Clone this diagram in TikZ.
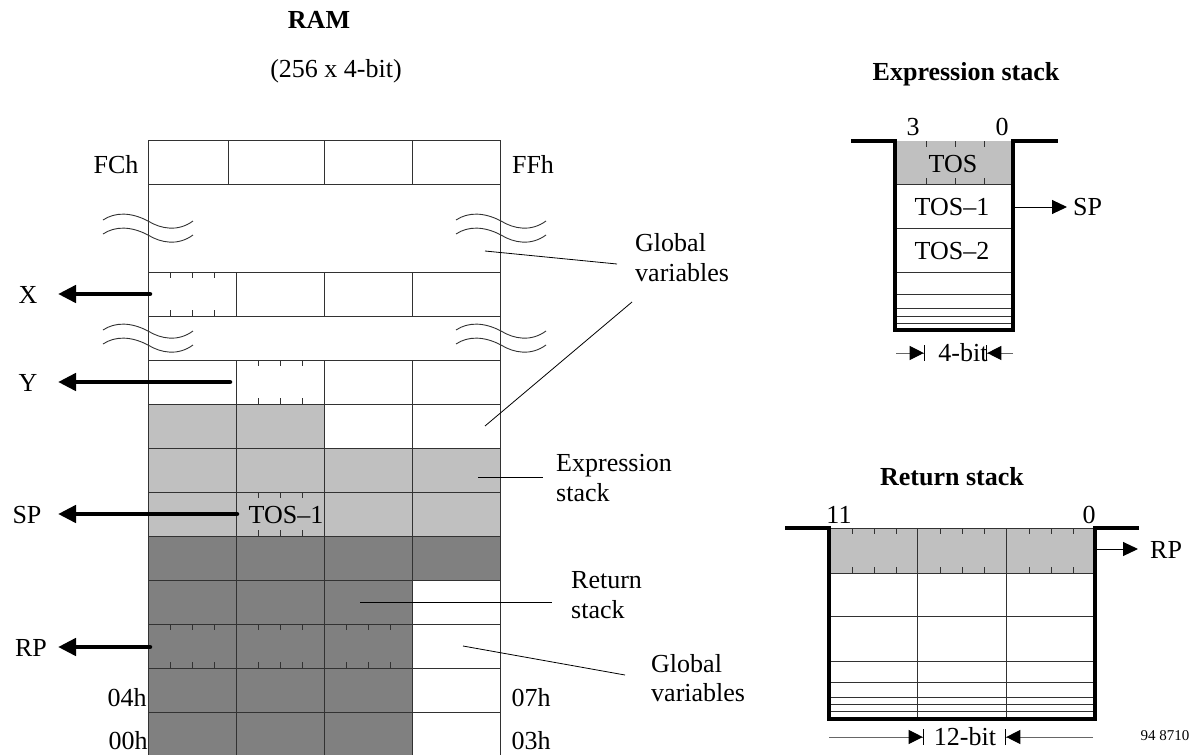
\documentclass[tikz,border=0pt]{standalone}
\usepackage{fontspec}
\setmainfont{Liberation Serif}
\usetikzlibrary{arrows.meta}
\definecolor{lgray}{RGB}{192,192,192}
\definecolor{dgray}{RGB}{128,128,128}
\definecolor{gline}{RGB}{50,50,50}
\begin{document}
\begin{tikzpicture}[x=1pt,y=-1pt,
  gridline/.style={draw=gline,line width=1pt},
  tickline/.style={draw=gline,line width=0.9pt},
  wall/.style={draw=black,line width=3.5pt,line join=miter},
  lbl/.style={font=\fontsize{26}{30}\selectfont,inner sep=0pt,anchor=base},
  mlbl/.style={font=\fontsize{26}{30}\selectfont,inner sep=0pt,align=left,anchor=west},
  ttl/.style={font=\fontsize{26}{30}\selectfont\bfseries,inner sep=0pt,anchor=base},
  bigarrow/.style={line width=4.5pt,line cap=round,-{Triangle[length=18pt,width=17pt]}},
  smallarrow/.style={line width=1pt,-{Triangle[length=15pt,width=14pt]}},
  dimarrow/.style={draw=black!60,line width=1pt,-{Triangle[length=14pt,width=14pt,color=black]Bar[width=16pt,color=black,line width=1.3pt]}},
  leader/.style={draw=black,line width=0.8pt},
  wave/.pic={\draw[gridline,line width=0.9pt] (0,0) .. controls (12,-8) and (28,-8) .. (45,1) .. controls (58,9) and (75,12) .. (90,1);}
]
\useasboundingbox (0,0) rectangle (1196,755);

% ---------------- RAM ----------------
\fill[lgray] (148,404) rectangle (324,448);
\fill[lgray] (148,448) rectangle (500,536);
\fill[dgray] (148,536) rectangle (500,580);
\fill[dgray] (148,580) rectangle (412,755);

\foreach \y in {140,184,272,316,360,404,448,492,536,580,624,668,712}
  \draw[gridline] (148,\y) -- (500,\y);
\draw[gridline] (148,140) -- (148,755);
\draw[gridline] (500,140) -- (500,755);
\foreach \x in {228,324,412} \draw[gridline] (\x,140) -- (\x,184);
\foreach \x in {236,324,412} {
  \draw[gridline] (\x,272) -- (\x,316);
  \draw[gridline] (\x,360) -- (\x,755);
}
% bit ticks
\foreach \cx/\ty in {148/272, 236/360, 236/492, 148/624, 236/624, 324/624} {
  \foreach \d in {22,44,66} {
    \draw[tickline] (\cx+\d,\ty) -- (\cx+\d,\ty+6);
    \draw[tickline] (\cx+\d,\ty+44) -- (\cx+\d,\ty+38);
  }
}
% break marks
\pic at (103,220) {wave};
\pic at (103,234) {wave};
\pic at (456,220) {wave};
\pic at (456,234) {wave};
\pic at (103,330) {wave};
\pic at (103,344) {wave};
\pic at (456,330) {wave};
\pic at (456,344) {wave};

% titles
\node[ttl] (ramT) at (319,28) {RAM};
\node[lbl] (ramS) at (336,77) {(256 x 4-bit)};

% address labels
\node[lbl] (fch) at (116,173) {FCh};
\node[lbl] (ffh) at (533,173) {FFh};
\node[lbl] (a04) at (127,706) {04h};
\node[lbl] (a07) at (531,706) {07h};
\node[lbl] (a00) at (128,749) {00h};
\node[lbl] (a03) at (531,749) {03h};
\node[lbl] (tos1r) at (286,523) {TOS\textendash 1};

% pointer labels and arrows
\node[lbl] (lX) at (28,303) {X};
\node[lbl] (lY) at (28,391) {Y};
\node[lbl] (lSP) at (27,523) {SP};
\node[lbl] (lRP) at (31,656) {RP};
\coordinate (sX) at (150,294);
\coordinate (sY) at (230,382);
\coordinate (sSP) at (237,514);
\coordinate (sRP) at (150,647);
\coordinate (tX) at (58,294);
\coordinate (tY) at (58,382);
\coordinate (tSP) at (58,514);
\coordinate (tRP) at (58,647);
\draw[bigarrow] (sX) -- (tX);
\draw[bigarrow] (sY) -- (tY);
\draw[bigarrow] (sSP) -- (tSP);
\draw[bigarrow] (sRP) -- (tRP);

% region labels and leaders
\node[mlbl] (gv1) at (635,258) {Global\\variables};
\node[mlbl] (es) at (556,478) {Expression\\stack};
\node[mlbl] (rs) at (571,595) {Return\\stack};
\node[mlbl,font=\fontsize{26}{29}\selectfont] (gv2) at (651,678) {Global\\variables};
\coordinate (g1a) at (485,251);
\coordinate (g1b) at (617,264);
\coordinate (g2a) at (485,426);
\coordinate (g2b) at (632,302);
\coordinate (esa) at (478,477);
\coordinate (esb) at (543,477);
\coordinate (rsa) at (360,602);
\coordinate (rsb) at (552,602);
\coordinate (g3a) at (463,646);
\coordinate (g3b) at (625,675);
\draw[leader] (g1a) -- (g1b);
\draw[leader] (g2a) -- (g2b);
\draw[leader] (esa) -- (esb);
\draw[leader] (rsa) -- (rsb);
\draw[leader] (g3a) -- (g3b);

% ---------------- Expression stack ----------------
\node[ttl] (esT) at (966,80) {Expression stack};
\fill[lgray] (895,141) rectangle (1013,184);
\foreach \y in {184,228,272,294,308,316,323}
  \draw[gridline] (895,\y) -- (1013,\y);
\foreach \x in {926,955,984} {
  \draw[tickline] (\x,141) -- (\x,147);
  \draw[tickline] (\x,184) -- (\x,178);
}
\draw[wall] (851,141) -- (895,141) -- (895,330) -- (1013,330) -- (1013,141) -- (1058,141);
\node[lbl] (e3) at (913,135) {3};
\node[lbl] (e0) at (1002,135) {0};
\node[lbl] (tos) at (953,172) {TOS};
\node[lbl] (tosm1) at (952,215) {TOS\textendash 1};
\node[lbl] (tosm2) at (952,259) {TOS\textendash 2};
\node[lbl,anchor=base west] (esp) at (1073,215) {SP};
\coordinate (espS) at (1013,207);
\coordinate (espT) at (1067,207);
\draw[smallarrow] (espS) -- (espT);
\node[lbl] (w4) at (963,361) {4-bit};
\coordinate (w4a) at (896,353);
\coordinate (w4b) at (925,353);
\coordinate (w4c) at (1013,353);
\coordinate (w4d) at (986,353);
\draw[dimarrow] (w4a) -- (w4b);
\draw[dimarrow] (w4c) -- (w4d);

% ---------------- Return stack ----------------
\node[ttl] (rsT) at (952,485) {Return stack};
\fill[lgray] (829,528) rectangle (1095,573);
\foreach \y in {573,616,661,682,697,704,711}
  \draw[gridline] (829,\y) -- (1095,\y);
\foreach \x in {917,1006} \draw[gridline] (\x,528) -- (\x,719);
\draw[gridline] (829,528) -- (1095,528);
\foreach \cx in {829,917,1006} {
  \foreach \d in {23,45,67} {
    \draw[tickline] (\cx+\d,528) -- (\cx+\d,534);
    \draw[tickline] (\cx+\d,573) -- (\cx+\d,567);
  }
}
\draw[wall] (785,528) -- (829,528) -- (829,719) -- (1095,719) -- (1095,528) -- (1139,528);
\node[lbl] (r11) at (839,523) {11};
\node[lbl] (r0) at (1089,523) {0};
\node[lbl,anchor=base west] (rrp) at (1150,558) {RP};
\coordinate (rpS) at (1095,549);
\coordinate (rpT) at (1138,549);
\draw[smallarrow] (rpS) -- (rpT);
\node[lbl] (w12) at (965,745) {12-bit};
\coordinate (w12a) at (829,737);
\coordinate (w12b) at (924,737);
\coordinate (w12c) at (1093,737);
\coordinate (w12d) at (1005,737);
\draw[dimarrow] (w12a) -- (w12b);
\draw[dimarrow] (w12c) -- (w12d);

\node[font=\fontsize{15}{18}\selectfont,inner sep=0pt,anchor=base] (ref) at (1165,740) {94 8710};
\end{tikzpicture}
\end{document}
